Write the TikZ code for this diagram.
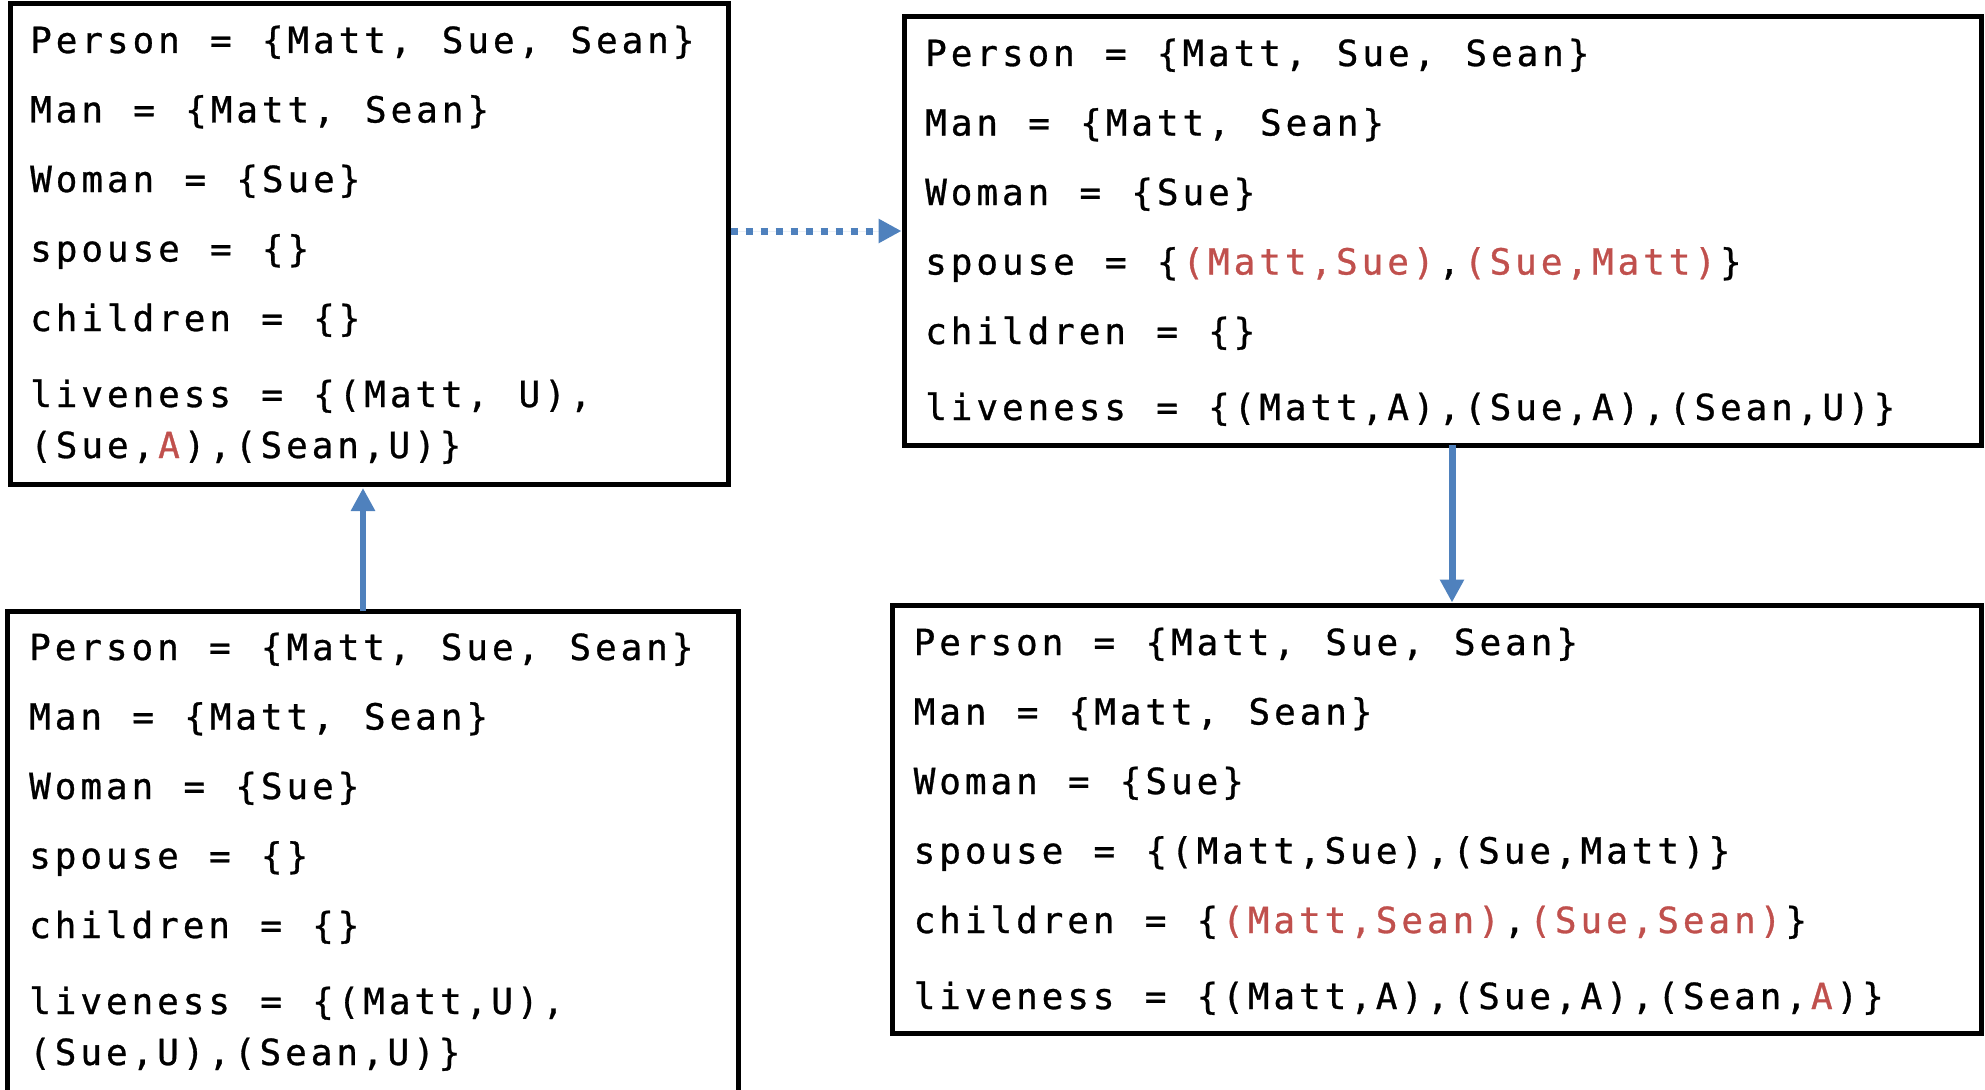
\documentclass[tikz,border=0pt]{standalone}
\usepackage{fontspec}
\usetikzlibrary{arrows.meta}
\newfontfamily\codefont{DejaVu Sans Mono}[LetterSpace=10.9,WordSpace={1.18,0,0},FakeBold=0.8]
\definecolor{hl}{HTML}{C0504D}
\definecolor{flow}{HTML}{4F81BD}
\newcommand\redpart[1]{\kern3.9pt\textcolor{hl}{#1}\kern3.9pt}
\begin{document}
\begin{tikzpicture}[x=1pt,y=-1pt,
  box/.style={draw=black,line width=5pt,anchor=north west,inner sep=0pt,outer sep=0pt},
  code/.style={anchor=base west,inner sep=0pt,font=\codefont\fontsize{36}{40}\selectfont},
  flowarrow/.style={draw=flow,fill=flow,line width=7pt,-{Triangle[length=23pt,width=23pt]}},
]
\useasboundingbox (0,0) rectangle (1985,1089);
\node[box,minimum width=718pt,minimum height=480pt] (b1) at (10,4) {};
\node[box,minimum width=1077pt,minimum height=428pt] (b2) at (904,17) {};
\node[box,minimum width=731pt,minimum height=490pt] (b3) at (7,611) {};
\node[box,minimum width=1089pt,minimum height=428pt] (b4) at (892,605) {};

\begin{scope}[shift={(30,53)}]
\node[code] (b1a) at (0,0) {Person = \{Matt, Sue, Sean\}};
\node[code] (b1b) at (0,69.5) {Man = \{Matt, Sean\}};
\node[code] (b1c) at (0,139) {Woman = \{Sue\}};
\node[code] (b1d) at (0,208.5) {spouse = \{\}};
\node[code] (b1e) at (0,278) {children = \{\}};
\node[code] (b1f) at (0,354) {liveness = \{(Matt, U),};
\node[code] (b1g) at (0,405) {(Sue,\redpart{A}),(Sean,U)\}};
\end{scope}

\begin{scope}[shift={(925,66)}]
\node[code] (b2a) at (0,0) {Person = \{Matt, Sue, Sean\}};
\node[code] (b2b) at (0,69.5) {Man = \{Matt, Sean\}};
\node[code] (b2c) at (0,139) {Woman = \{Sue\}};
\node[code] (b2d) at (0,208.5) {spouse = \{\redpart{(Matt,Sue)},\redpart{(Sue,Matt)}\}};
\node[code] (b2e) at (0,278) {children = \{\}};
\node[code] (b2f) at (0,354) {liveness = \{(Matt,A),(Sue,A),(Sean,U)\}};
\end{scope}

\begin{scope}[shift={(29,660)}]
\node[code] (b3a) at (0,0) {Person = \{Matt, Sue, Sean\}};
\node[code] (b3b) at (0,69.5) {Man = \{Matt, Sean\}};
\node[code] (b3c) at (0,139) {Woman = \{Sue\}};
\node[code] (b3d) at (0,208.5) {spouse = \{\}};
\node[code] (b3e) at (0,278) {children = \{\}};
\node[code] (b3f) at (0,354) {liveness = \{(Matt,U),};
\node[code] (b3g) at (0,405) {(Sue,U),(Sean,U)\}};
\end{scope}

\begin{scope}[shift={(913.5,655)}]
\node[code] (b4a) at (0,0) {Person = \{Matt, Sue, Sean\}};
\node[code] (b4b) at (0,69.5) {Man = \{Matt, Sean\}};
\node[code] (b4c) at (0,139) {Woman = \{Sue\}};
\node[code] (b4d) at (0,208.5) {spouse = \{(Matt,Sue),(Sue,Matt)\}};
\node[code] (b4e) at (0,278) {children = \{\redpart{(Matt,Sean)},\redpart{(Sue,Sean)}\}};
\node[code] (b4f) at (0,354) {liveness = \{(Matt,A),(Sue,A),(Sean,\redpart{A})\}};
\end{scope}

\coordinate (ux) at (363,0);
\coordinate (dx) at (1452,0);
\draw[flowarrow,line width=6.5pt,shorten >=4pt] (ux |- b3.north) -- (ux |- b1.south);
\draw[flowarrow,shorten >=2.5pt] (dx |- b2.south) -- (dx |- b4.north);
\draw[flowarrow,dash pattern=on 7pt off 8pt,shorten <=2.5pt,shorten >=2.5pt] (b1.east |- b2.west) -- (b2.west);
\end{tikzpicture}
\end{document}
